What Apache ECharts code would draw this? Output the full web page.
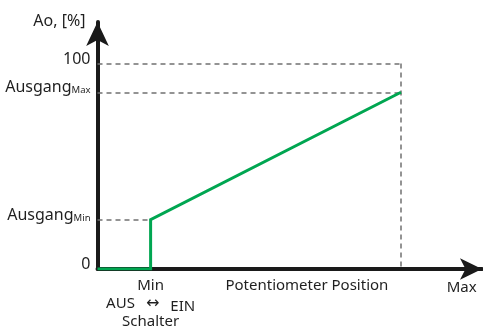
<!DOCTYPE html>
<html>
<head>
<meta charset="utf-8">
<script src="https://cdn.jsdelivr.net/npm/echarts@6/dist/echarts.min.js"></script>
<style>html,body{margin:0;padding:0;background:#fff}#c{width:483px;height:332px}</style>
</head>
<body>
<div id="c"></div>
<script>
// ---- data ----
var curvePoints = [[0, 0], [17.5, 0], [17.5, 24], [100, 86]];
var yTickValues = [0, 24, 86, 100];
var yTickLabels = ['0', 'Ausgang{s|Min}', 'Ausgang{s|Max}', '100'];
var xTickValues = [17.5, 69, 120];
var xTickLabels = ['Min\n{a|AUS}{ar|↔}{e|EIN}\nSchalter', 'Potentiometer Position', '{mx|Max}'];
var yAxisName = 'Ao, [%]';
var refLevels = { full: 100, outMax: 86, outMin: 24, posMin: 17.5, posMax: 100 };

var FONT = 'Noto Sans';
var TXT = '#1f1f1f';

var chart = echarts.init(document.getElementById('c'), null, { renderer: 'canvas' });

var dashStyle = { color: '#707070', width: 1.5, type: [5, 4] };

chart.setOption({
  animation: false,
  grid: { left: 97.5, right: 1, top: 22, bottom: 63, containLabel: false },
  xAxis: {
    type: 'value', min: 0, max: 126.7,
    splitLine: { show: false }, axisTick: { show: false },
    axisLine: { show: true, onZero: false, symbol: ['none', 'arrow'], symbolSize: [16, 22],
      lineStyle: { color: '#1a1a1a', width: 4 } },
    axisLabel: {
      customValues: xTickValues, margin: 8, color: TXT, fontFamily: FONT, fontSize: 15, lineHeight: 18,
      formatter: function (v) { var i = xTickValues.indexOf(v); return i >= 0 ? xTickLabels[i] : ''; },
      rich: {
        a: { fontFamily: FONT, fontSize: 15, color: TXT, lineHeight: 18 },
        ar: { fontFamily: 'DejaVu Sans', fontSize: 16, color: TXT, lineHeight: 18, padding: [0, 11, 0, 11] },
        e: { fontFamily: FONT, fontSize: 15, color: TXT, lineHeight: 18, padding: [5, 0, 0, 0] },
        mx: { fontFamily: FONT, fontSize: 15, color: TXT, padding: [4, 0, 0, 0] }
      }
    }
  },
  yAxis: {
    type: 'value', min: 0, max: 120.2,
    name: yAxisName, nameLocation: 'end', nameGap: 1,
    nameTextStyle: { color: TXT, fontFamily: FONT, fontSize: 16, align: 'right', verticalAlign: 'middle', padding: [0, 12, 0, 0] },
    splitLine: { show: false }, axisTick: { show: false },
    axisLine: { show: true, onZero: false, symbol: ['none', 'arrow'], symbolSize: [17, 24],
      lineStyle: { color: '#1a1a1a', width: 4 } },
    axisLabel: {
      customValues: yTickValues, margin: 7, color: TXT, fontFamily: FONT, fontSize: 16,
      verticalAlign: 'middle', padding: [0, 0, 9, 0],
      formatter: function (v) { var i = yTickValues.indexOf(v); return i >= 0 ? yTickLabels[i] : ''; },
      rich: {
        s: { fontFamily: FONT, fontSize: 9.5, color: TXT, verticalAlign: 'bottom' }
      }
    }
  },
  series: [{
    type: 'line', data: curvePoints, showSymbol: false, symbol: 'none', z: 5,
    lineStyle: { color: '#00a651', width: 3, join: 'miter' },
    markLine: {
      silent: true, symbol: ['none', 'none'], label: { show: false }, z: 1,
      lineStyle: dashStyle,
      data: [
        [{ coord: [0, refLevels.full] }, { coord: [refLevels.posMax, refLevels.full] }],
        [{ coord: [refLevels.posMax, refLevels.full] }, { coord: [refLevels.posMax, 0] }],
        [{ coord: [0, refLevels.outMax] }, { coord: [refLevels.posMax, refLevels.outMax] }],
        [{ coord: [0, refLevels.outMin] }, { coord: [refLevels.posMin, refLevels.outMin] }]
      ]
    }
  }]
});
</script>
</body>
</html>
